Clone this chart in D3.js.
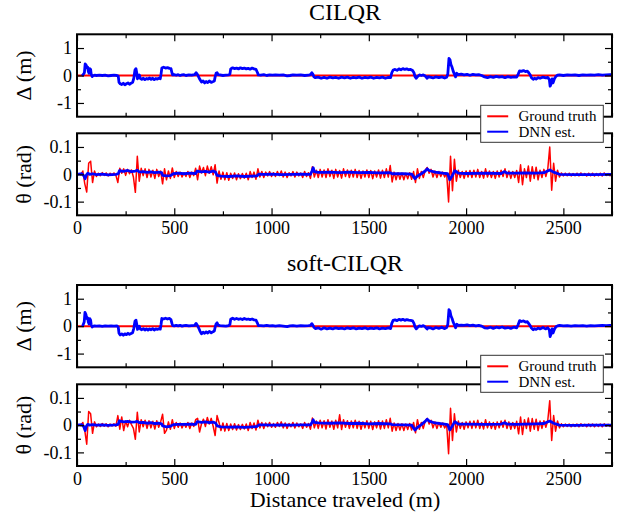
<!DOCTYPE html>
<html><head><meta charset="utf-8">
<script src="https://cdn.jsdelivr.net/npm/d3@7"></script>
<style>body{margin:0;background:#fff}</style>
</head><body>
<svg id="c" width="621" height="514"></svg>
<script>
// ---------------- data ----------------
const titles = ["CILQR", "soft-CILQR"];
const legendLabels = ["Ground truth", "DNN est."];
const xLabel = "Distance traveled (m)";
const deltaLabel = "\u0394 (m)";
const thetaLabel = "\u03b8 (rad)";
const xTicks = [0, 500, 1000, 1500, 2000, 2500];
const xTickLabels = ["0", "500", "1000", "1500", "2000", "2500"];
const xMinorTicks = [250, 750, 1250, 1750, 2250, 2750];
const deltaTicks = [-1, 0, 1];
const deltaTickLabels = ["-1", "0", "1"];
const deltaMinorTicks = [-0.5, 0.5];
const thetaTicks = [-0.1, 0, 0.1];
const thetaTickLabels = ["-0.1", "0", "0.1"];
const thetaMinorTicks = [-0.05, 0.05];
const thetaSampleStep = 10; // metres between ground-truth theta samples

// Ground truth lateral offset (zero all along)
const cilqrDeltaTruth = [[0, 0], [2750, 0]];
const softDeltaTruth = [[0, 0], [2750, 0]];

// DNN estimate of lateral offset, [distance, value]
const cilqrDeltaDnn = [[25,0],[30,0.02],[38,0.1],[42,0.42],[47,0.38],[50,0.28],[55,0.3],[58,0.15],[62,0.08],[66,0.25],[70,0.22],[73,0.05],[78,-0.04],[82,-0.01],[90,0.01],[100,0],[115,0.01],[130,0],[145,0.01],[160,-0.01],[175,0],[190,0.01],[205,0],[212,-0.02],[216,-0.25],[222,-0.3],[230,-0.33],[238,-0.28],[246,-0.34],[254,-0.3],[262,-0.27],[270,-0.32],[278,-0.28],[286,-0.25],[292,-0.1],[298,0.2],[303,0.25],[307,0.1],[311,-0.12],[315,-0.05],[320,0.02],[325,-0.1],[333,-0.14],[341,-0.1],[349,-0.15],[357,-0.11],[365,-0.13],[373,-0.09],[381,-0.14],[389,-0.1],[397,-0.15],[405,-0.11],[413,-0.13],[421,-0.1],[428,-0.12],[432,0.05],[436,0.27],[445,0.3],[455,0.27],[465,0.29],[475,0.26],[483,0.25],[488,0.1],[492,0.02],[500,0.03],[510,0.01],[520,0.03],[530,0],[540,0.02],[550,0.03],[560,0],[575,0.02],[590,0.01],[605,0.03],[612,0.1],[618,0.05],[625,-0.05],[632,-0.15],[640,-0.24],[648,-0.2],[656,-0.27],[664,-0.22],[672,-0.26],[680,-0.2],[690,-0.25],[700,-0.22],[706,-0.2],[710,-0.05],[715,0.08],[720,0.1],[725,0.03],[735,0.02],[750,0],[765,0.01],[780,0.02],[786,0.05],[790,0.24],[800,0.28],[810,0.25],[820,0.27],[830,0.24],[840,0.28],[850,0.25],[860,0.27],[870,0.24],[880,0.26],[890,0.23],[900,0.27],[910,0.24],[920,0.22],[928,0.1],[932,0.02],[945,0.01],[960,0.03],[975,0],[990,0.02],[1005,0.01],[1020,0.02],[1040,0.01],[1060,0.02],[1080,-0.01],[1095,0],[1110,0.02],[1130,0.01],[1150,0.02],[1170,0],[1190,0.01],[1200,0.03],[1207,0.1],[1212,0.05],[1218,-0.05],[1225,-0.08],[1240,-0.06],[1255,-0.1],[1270,-0.07],[1285,-0.1],[1300,-0.06],[1315,-0.09],[1330,-0.07],[1345,-0.1],[1360,-0.06],[1375,-0.09],[1390,-0.06],[1405,-0.1],[1420,-0.07],[1435,-0.09],[1450,-0.06],[1465,-0.1],[1480,-0.07],[1495,-0.09],[1510,-0.06],[1525,-0.1],[1540,-0.07],[1555,-0.09],[1570,-0.06],[1585,-0.1],[1600,-0.07],[1612,-0.08],[1618,0.1],[1625,0.2],[1635,0.22],[1645,0.19],[1655,0.24],[1665,0.21],[1675,0.25],[1685,0.22],[1695,0.24],[1705,0.21],[1715,0.22],[1725,0.18],[1732,0.1],[1738,-0.05],[1744,-0.1],[1750,-0.04],[1760,0.02],[1770,0],[1780,0.02],[1790,-0.02],[1800,-0.1],[1806,-0.04],[1815,-0.06],[1830,-0.09],[1845,-0.05],[1860,-0.08],[1875,-0.05],[1890,-0.09],[1900,-0.06],[1906,0.05],[1912,0.62],[1917,0.58],[1922,0.4],[1928,0.3],[1934,0.15],[1940,0.05],[1946,-0.05],[1952,0.08],[1960,0.03],[1975,0.05],[1990,0.02],[2005,0.04],[2020,0.01],[2035,0.04],[2050,0.02],[2065,0.03],[2080,0],[2095,-0.05],[2110,-0.08],[2125,-0.04],[2140,-0.07],[2155,-0.03],[2170,-0.06],[2185,-0.04],[2200,-0.08],[2215,-0.04],[2230,-0.07],[2245,-0.05],[2260,-0.06],[2268,0.05],[2275,0.17],[2285,0.15],[2295,0.18],[2305,0.14],[2315,0.16],[2322,0.1],[2330,0.02],[2336,-0.08],[2345,-0.14],[2352,-0.1],[2360,-0.13],[2370,-0.08],[2380,-0.1],[2395,-0.06],[2410,-0.09],[2420,-0.07],[2428,-0.15],[2432,-0.39],[2437,-0.3],[2442,-0.12],[2447,-0.27],[2454,-0.12],[2462,-0.03],[2470,0.01],[2480,0.02],[2500,0],[2520,0.02],[2540,0.01],[2560,0.02],[2580,0],[2600,0.02],[2620,0.01],[2640,0.02],[2660,0.01],[2680,0.03],[2700,0.01],[2720,0.02],[2740,0.03],[2750,0.03]];

const softDeltaDnn = [[25,0],[30,0.02],[37,0.15],[41,0.5],[46,0.42],[50,0.28],[55,0.3],[58,0.15],[62,0.08],[66,0.27],[70,0.22],[73,0.05],[78,-0.03],[82,-0.01],[90,0.01],[100,0],[115,0.01],[130,-0.01],[145,0.01],[160,0],[175,0.01],[190,0],[205,0.01],[212,-0.03],[216,-0.26],[222,-0.32],[230,-0.28],[238,-0.33],[246,-0.28],[254,-0.31],[262,-0.26],[270,-0.3],[278,-0.27],[286,-0.24],[292,-0.08],[298,0.18],[303,0.22],[307,0.08],[311,-0.12],[315,-0.06],[320,0],[325,-0.1],[333,-0.13],[341,-0.09],[349,-0.14],[357,-0.1],[365,-0.14],[373,-0.1],[381,-0.13],[389,-0.09],[397,-0.14],[405,-0.1],[413,-0.12],[421,-0.09],[428,-0.11],[432,0.06],[436,0.28],[445,0.26],[455,0.29],[465,0.26],[475,0.28],[483,0.24],[488,0.1],[492,0.02],[500,0.01],[510,0.03],[520,0.01],[530,0.03],[540,0],[550,0.02],[560,0.03],[575,0.01],[590,0.02],[605,0.03],[612,0.1],[618,0.04],[625,-0.06],[632,-0.18],[640,-0.28],[648,-0.22],[656,-0.26],[664,-0.21],[672,-0.25],[680,-0.19],[690,-0.24],[700,-0.2],[706,-0.18],[710,-0.04],[715,0.08],[720,0.12],[725,0.04],[735,0.02],[750,0.01],[765,0],[780,0.02],[786,0.06],[790,0.25],[800,0.29],[810,0.25],[820,0.28],[830,0.25],[840,0.27],[850,0.24],[860,0.28],[870,0.25],[880,0.26],[890,0.24],[900,0.26],[910,0.23],[920,0.22],[928,0.1],[932,0.02],[945,0.02],[960,0.01],[975,0.03],[990,0.01],[1005,0.02],[1020,0],[1040,0.02],[1060,0],[1080,-0.02],[1095,0.01],[1110,0.02],[1130,0],[1150,0.02],[1170,0.01],[1190,0.02],[1200,0.03],[1207,0.09],[1212,0.04],[1218,-0.04],[1225,-0.09],[1240,-0.06],[1255,-0.11],[1270,-0.06],[1285,-0.1],[1300,-0.07],[1315,-0.1],[1330,-0.06],[1345,-0.09],[1360,-0.07],[1375,-0.1],[1390,-0.06],[1405,-0.09],[1420,-0.06],[1435,-0.1],[1450,-0.07],[1465,-0.09],[1480,-0.06],[1495,-0.1],[1510,-0.07],[1525,-0.09],[1540,-0.06],[1555,-0.1],[1570,-0.07],[1585,-0.09],[1600,-0.06],[1612,-0.09],[1618,0.1],[1625,0.21],[1635,0.23],[1645,0.2],[1655,0.25],[1665,0.22],[1675,0.25],[1685,0.21],[1695,0.24],[1705,0.22],[1715,0.21],[1725,0.19],[1732,0.1],[1738,-0.04],[1744,-0.1],[1750,-0.05],[1760,0.01],[1770,-0.01],[1780,0.02],[1790,-0.03],[1800,-0.1],[1806,-0.05],[1815,-0.06],[1830,-0.1],[1845,-0.05],[1860,-0.08],[1875,-0.04],[1890,-0.09],[1900,-0.05],[1906,0.06],[1912,0.6],[1917,0.55],[1922,0.38],[1928,0.28],[1934,0.14],[1940,0.04],[1946,-0.06],[1952,0.07],[1960,0.03],[1975,0.04],[1990,0.03],[2005,0.05],[2020,0.02],[2035,0.04],[2050,0.01],[2065,0.03],[2080,0],[2095,-0.06],[2110,-0.07],[2125,-0.04],[2140,-0.08],[2155,-0.04],[2170,-0.06],[2185,-0.03],[2200,-0.07],[2215,-0.05],[2230,-0.08],[2245,-0.04],[2260,-0.06],[2268,0.06],[2275,0.2],[2285,0.17],[2295,0.19],[2305,0.15],[2315,0.16],[2322,0.09],[2330,0.01],[2336,-0.07],[2345,-0.13],[2352,-0.09],[2360,-0.12],[2370,-0.07],[2380,-0.1],[2395,-0.05],[2410,-0.1],[2420,-0.06],[2428,-0.14],[2432,-0.38],[2437,-0.28],[2442,-0.1],[2447,-0.25],[2454,-0.11],[2462,-0.02],[2470,0.01],[2480,0.03],[2500,0.01],[2520,0.02],[2540,0],[2560,0.02],[2580,0.01],[2600,0.02],[2620,0],[2640,0.02],[2660,0.01],[2680,0.02],[2700,0.03],[2720,0.02],[2740,0.03],[2750,0.03]];

// Ground truth heading error, one value every thetaSampleStep metres (0..2750)
const cilqrThetaTruth = [
 0,0.002,-0.002,0.012,-0.035,-0.065,0.04,0.048,-0.03,0.012,
 -0.008,0.004,-0.005,0.006,-0.004,0.005,-0.006,0.004,-0.003,0.005,
 -0.004,-0.03,0.022,0.004,0.02,-0.004,0.018,0.002,0.016,-0.01,
 -0.066,0.066,-0.025,0.022,-0.005,0.02,-0.012,0.018,-0.01,0.015,
 -0.015,0.018,-0.008,0.012,-0.035,0.02,-0.02,0.012,-0.015,0.023,
 -0.012,0.01,-0.008,0.008,-0.01,0.006,-0.008,0.01,-0.012,0.008,
 -0.005,0.022,-0.02,0.03,0.005,0.025,-0.005,0.03,0.004,0.028,
 -0.002,0.035,-0.032,0.012,-0.018,0.008,-0.02,0.006,-0.022,0.004,
 -0.015,0.005,-0.02,0.002,-0.016,0.003,-0.014,0.004,-0.02,0.01,
 -0.012,0.008,-0.018,0.02,-0.01,0.01,-0.012,0.008,-0.006,0.01,
 -0.008,0.006,-0.008,0.01,-0.005,0.012,-0.01,0.008,-0.012,0.006,
 -0.006,0.01,-0.01,0.008,-0.006,0.005,-0.012,0.01,-0.008,0.006,
 -0.015,0.028,-0.01,0.015,-0.012,0.018,-0.01,0.016,-0.012,0.02,
 -0.008,0.015,-0.015,0.018,-0.01,0.014,-0.014,0.02,-0.008,0.016,
 -0.012,0.015,-0.01,0.018,-0.012,0.014,-0.015,0.012,-0.01,0.016,
 -0.012,0.014,-0.016,0.012,-0.01,0.016,-0.014,0.015,-0.012,0.02,
 -0.01,0.032,-0.028,0.008,-0.02,0.006,-0.018,0.005,-0.02,0.004,
 -0.016,0.006,-0.018,0.01,-0.03,0.02,-0.015,0.01,-0.012,0.015,
 0.025,0.004,0.018,-0.01,0.012,-0.012,0.01,-0.008,0.008,-0.01,
 0.004,-0.101,0.066,-0.06,0.055,-0.025,0.015,-0.012,0.01,-0.015,
 0.012,-0.01,0.014,-0.012,0.015,-0.01,0.018,-0.012,0.01,-0.014,
 0.02,-0.01,0.012,-0.012,0.01,-0.015,0.012,-0.01,0.015,-0.008,
 0.02,-0.012,0.012,-0.015,0.01,-0.012,0.014,-0.03,0.035,-0.038,
 0.02,-0.012,0.03,-0.025,0.028,-0.015,0.026,-0.02,0.015,-0.012,
 0.018,-0.008,0.02,0.1,-0.058,0.04,-0.025,0.015,-0.01,0.005,
 -0.006,0.004,-0.005,0.004,-0.006,0.003,-0.005,0.004,-0.006,0.005,
 -0.004,0.003,-0.006,0.004,-0.005,0.004,-0.006,0.003,-0.005,0.004,
 -0.006,0.005,-0.004,0.003,-0.005,0.002];

const softThetaTruth = [
 0,0.002,-0.002,0.01,-0.02,-0.07,0.05,0.042,-0.03,0.012,
 -0.006,0.004,-0.005,0.006,-0.004,0.005,-0.006,0.004,-0.003,0.005,
 -0.004,0.035,-0.015,0.03,-0.02,0.015,-0.006,0.018,0.002,-0.012,
 -0.052,0.047,-0.025,0.02,-0.006,0.018,-0.012,0.016,-0.01,0.014,
 -0.014,0.016,-0.008,0.012,0.04,-0.03,-0.018,0.012,-0.015,0.02,
 -0.012,0.01,-0.008,0.008,-0.01,0.006,-0.008,0.01,-0.012,0.008,
 -0.005,0.02,0.025,-0.025,0.005,0.022,-0.005,0.028,0.004,0.025,
 -0.004,-0.038,0.035,0.01,-0.02,0.008,-0.022,0.006,-0.02,0.004,
 -0.016,0.005,-0.018,0.002,-0.016,0.003,-0.014,0.004,-0.02,0.01,
 -0.012,0.008,-0.018,0.018,-0.01,0.01,-0.012,0.008,-0.006,0.01,
 -0.008,0.006,-0.008,0.01,-0.005,0.012,-0.01,0.008,-0.012,0.006,
 -0.006,0.01,-0.01,0.008,-0.006,0.005,-0.012,0.01,-0.008,0.006,
 -0.015,0.026,-0.01,0.015,-0.012,0.018,-0.01,0.016,-0.014,0.02,
 -0.008,0.015,-0.015,0.018,-0.01,0.038,-0.016,0.02,-0.008,0.016,
 -0.012,0.015,-0.01,0.018,-0.012,0.014,-0.015,0.012,-0.01,0.016,
 -0.012,0.014,-0.016,0.012,-0.01,0.016,-0.014,0.015,-0.012,0.02,
 -0.01,0.025,-0.022,0.008,-0.02,0.006,-0.018,0.005,-0.02,0.004,
 -0.016,0.006,-0.018,0.01,-0.028,0.02,-0.015,0.01,-0.012,0.015,
 0.025,0.004,0.018,-0.01,0.012,-0.012,0.01,-0.008,0.008,-0.01,
 0.004,-0.105,0.062,-0.056,0.042,-0.025,0.015,-0.012,0.01,-0.015,
 0.012,-0.01,0.014,-0.012,0.015,-0.01,0.018,-0.012,0.01,-0.014,
 0.02,-0.01,0.012,-0.012,0.01,-0.015,0.012,-0.01,0.015,-0.008,
 0.018,-0.012,0.012,-0.015,0.01,-0.012,0.014,-0.032,0.03,-0.034,
 0.02,-0.012,0.026,-0.022,0.024,-0.015,0.022,-0.02,0.015,-0.012,
 0.016,-0.008,0.018,0.09,-0.056,0.035,-0.022,0.015,-0.01,0.005,
 -0.006,0.004,-0.005,0.004,-0.006,0.003,-0.005,0.004,-0.006,0.005,
 -0.004,0.003,-0.006,0.004,-0.005,0.004,-0.006,0.003,-0.005,0.004,
 -0.006,0.005,-0.004,0.003,-0.005,0.002];

// DNN estimate of heading error, [distance, value]
const cilqrThetaDnn = [[0,0],[25,0.002],[35,-0.005],[42,-0.016],[48,-0.003],[55,0.004],[65,0],[80,0.002],[100,-0.001],[130,0.001],[160,-0.002],[200,0],[212,0.002],[218,0.013],[240,0.011],[260,0.014],[280,0.01],[300,0.012],[310,0.015],[320,0.008],[340,0.01],[360,0.007],[380,0.009],[400,0.006],[420,0.008],[435,0.006],[440,-0.004],[460,-0.006],[480,-0.005],[495,0.002],[520,0.004],[550,0.002],[580,0.004],[610,0.003],[618,0.012],[640,0.009],[660,0.011],[680,0.008],[700,0.012],[712,0.008],[720,-0.004],[740,-0.007],[780,-0.008],[820,-0.006],[860,-0.008],[900,-0.007],[925,-0.006],[935,0.001],[960,0],[1000,0.001],[1050,-0.001],[1100,0],[1150,0.001],[1200,0],[1208,0.012],[1214,0.024],[1220,0.01],[1240,0.007],[1300,0.008],[1350,0.006],[1400,0.008],[1450,0.006],[1500,0.007],[1550,0.005],[1610,0.006],[1620,0.002],[1680,0.002],[1720,0.001],[1737,-0.016],[1750,-0.006],[1770,0.002],[1790,0.012],[1800,0.02],[1810,0.014],[1840,0.008],[1880,0.004],[1905,0.002],[1916,-0.02],[1925,-0.01],[1942,0.013],[1960,0.004],[2000,0.003],[2100,0.004],[2180,0.003],[2198,0.01],[2210,0.004],[2260,0.004],[2300,0.005],[2360,0.004],[2400,0.006],[2430,0.016],[2450,0.008],[2480,0],[2550,-0.001],[2650,-0.001],[2750,0]];

const softThetaDnn = [[0,0],[25,0.002],[35,-0.006],[42,-0.02],[48,-0.004],[55,0.003],[65,0],[80,0.002],[100,0],[130,0.001],[160,-0.001],[200,0.001],[212,0.003],[218,0.016],[240,0.012],[260,0.014],[280,0.011],[300,0.012],[310,0.014],[320,0.009],[340,0.01],[360,0.007],[380,0.009],[400,0.006],[420,0.007],[435,0.005],[440,-0.003],[460,-0.006],[480,-0.004],[495,0.002],[520,0.003],[550,0.003],[580,0.004],[610,0.003],[618,0.013],[640,0.01],[660,0.012],[680,0.009],[700,0.011],[712,0.008],[720,-0.003],[740,-0.006],[780,-0.007],[820,-0.006],[860,-0.008],[900,-0.006],[925,-0.005],[935,0.001],[960,0.001],[1000,0],[1050,0.001],[1100,0],[1150,0.001],[1200,0.001],[1208,0.01],[1214,0.02],[1220,0.01],[1240,0.008],[1300,0.007],[1350,0.008],[1400,0.006],[1450,0.007],[1500,0.005],[1550,0.006],[1610,0.005],[1620,0.002],[1680,0.001],[1720,0],[1737,-0.018],[1750,-0.008],[1770,0.002],[1790,0.014],[1800,0.022],[1810,0.015],[1840,0.008],[1880,0.005],[1905,0.002],[1916,-0.018],[1925,-0.008],[1942,0.013],[1960,0.004],[2000,0.004],[2100,0.003],[2180,0.004],[2198,0.009],[2210,0.004],[2260,0.003],[2300,0.004],[2360,0.005],[2400,0.006],[2430,0.015],[2450,0.007],[2480,0],[2550,-0.001],[2650,0],[2750,0]];

// ---------------- drawing ----------------
const W = 621, H = 514;
const FONT = "'Liberation Serif','Times New Roman',Times,serif";
const svg = d3.select('#c');
svg.append('rect').attr('width', W).attr('height', H).attr('fill', '#fff');

const x = d3.scaleLinear().domain([0, 2750]).range([77, 612]);
const RED = '#ff0000', BLUE = '#0000ff';

const blocks = [
  {title: titles[0], titleY: 20, d: [34.3, 116.7], t: [133.3, 215.3], legendY: 105.3,
   deltaTruth: cilqrDeltaTruth, deltaDnn: cilqrDeltaDnn, thetaTruth: cilqrThetaTruth, thetaDnn: cilqrThetaDnn},
  {title: titles[1], titleY: 271, d: [285, 367.3], t: [384.3, 466], legendY: 355.3,
   deltaTruth: softDeltaTruth, deltaDnn: softDeltaDnn, thetaTruth: softThetaTruth, thetaDnn: softThetaDnn}
];

function styleAxis(g) {
  g.select('.domain').remove();
  g.selectAll('.tick line').attr('stroke', '#000').attr('stroke-width', 1.2);
  g.selectAll('text').attr('font-family', FONT).attr('font-size', 18).attr('fill', '#000');
}

function panel(range, domain, ticks, tickLabels, minor, showX, truth, dnn, label, truthW, dnnW) {
  const y = d3.scaleLinear().domain(domain).range([range[1], range[0]]);
  const g = svg.append('g');
  const line = d3.line().x(d => x(d[0])).y(d => y(d[1]));
  g.append('path').datum(truth).attr('d', line).attr('fill', 'none')
    .attr('stroke', RED).attr('stroke-width', truthW).attr('stroke-linejoin', 'round');
  g.append('path').datum(dnn).attr('d', line).attr('fill', 'none')
    .attr('stroke', BLUE).attr('stroke-width', dnnW).attr('stroke-linejoin', 'round');

  // axes: ticks inside on all four sides
  g.append('g').attr('transform', `translate(${x.range()[0]},0)`)
    .call(d3.axisLeft(y).tickValues(ticks).tickSize(-7).tickPadding(5)
      .tickFormat((d, i) => tickLabels[i])).call(styleAxis);
  g.append('g').attr('transform', `translate(${x.range()[0]},0)`)
    .call(d3.axisLeft(y).tickValues(minor).tickSize(-4).tickFormat('')).call(styleAxis);
  g.append('g').attr('transform', `translate(${x.range()[1]},0)`)
    .call(d3.axisRight(y).tickValues(ticks).tickSize(-7).tickFormat('')).call(styleAxis);
  g.append('g').attr('transform', `translate(${x.range()[1]},0)`)
    .call(d3.axisRight(y).tickValues(minor).tickSize(-4).tickFormat('')).call(styleAxis);
  g.append('g').attr('transform', `translate(0,${range[0]})`)
    .call(d3.axisTop(x).tickValues(xTicks).tickSize(-7).tickFormat('')).call(styleAxis);
  g.append('g').attr('transform', `translate(0,${range[0]})`)
    .call(d3.axisTop(x).tickValues(xMinorTicks).tickSize(-4).tickFormat('')).call(styleAxis);
  g.append('g').attr('transform', `translate(0,${range[1]})`)
    .call(d3.axisBottom(x).tickValues(xTicks).tickSize(-7).tickPadding(6)
      .tickFormat((d, i) => showX ? xTickLabels[i] : '')).call(styleAxis);
  g.append('g').attr('transform', `translate(0,${range[1]})`)
    .call(d3.axisBottom(x).tickValues(xMinorTicks).tickSize(-4).tickFormat('')).call(styleAxis);

  g.append('rect').attr('x', x.range()[0]).attr('y', range[0])
    .attr('width', x.range()[1] - x.range()[0]).attr('height', range[1] - range[0])
    .attr('fill', 'none').attr('stroke', '#000').attr('stroke-width', 2);

  g.append('text').attr('transform', `translate(23,${(range[0] + range[1]) / 2}) rotate(-90)`)
    .attr('text-anchor', 'middle').attr('dominant-baseline', 'central')
    .attr('font-family', FONT).attr('font-size', 22).text(label);
}

blocks.forEach(b => {
  svg.append('text').attr('x', 345).attr('y', b.titleY).attr('text-anchor', 'middle')
    .attr('font-family', FONT).attr('font-size', 24).text(b.title);
  panel(b.d, [-1.5, 1.5], deltaTicks, deltaTickLabels, deltaMinorTicks, false,
        b.deltaTruth, b.deltaDnn, deltaLabel, 2, 2.8);
  const thetaTruthPts = b.thetaTruth.map((v, i) => [i * thetaSampleStep, v]);
  panel(b.t, [-0.15, 0.15], thetaTicks, thetaTickLabels, thetaMinorTicks, true,
        thetaTruthPts, b.thetaDnn, thetaLabel, 1.5, 2.8);

  // legend
  const lg = svg.append('g').attr('transform', `translate(480.7,${b.legendY})`);
  lg.append('rect').attr('width', 122.6).attr('height', 37).attr('fill', '#fff')
    .attr('stroke', '#333').attr('stroke-width', 1);
  [RED, BLUE].forEach((c, i) => {
    const yy = 11 + i * 15.4;
    lg.append('line').attr('x1', 6.5).attr('x2', 27.5).attr('y1', yy).attr('y2', yy)
      .attr('stroke', c).attr('stroke-width', 2);
    lg.append('text').attr('x', 37.8).attr('y', yy).attr('dominant-baseline', 'central')
      .attr('font-family', FONT).attr('font-size', 15).text(legendLabels[i]);
  });
});

svg.append('text').attr('x', 345).attr('y', 507).attr('text-anchor', 'middle')
  .attr('font-family', FONT).attr('font-size', 22).text(xLabel);
</script>
</body></html>
